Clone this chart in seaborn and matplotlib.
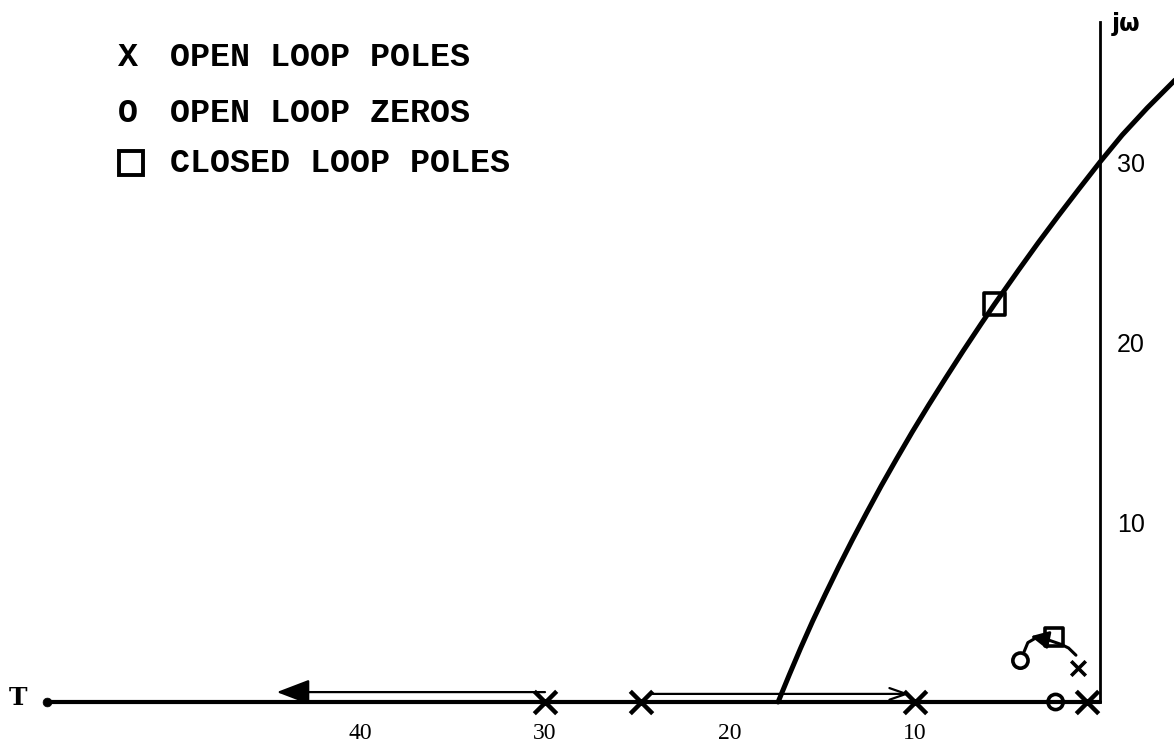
import matplotlib
matplotlib.use("Agg")
import matplotlib.pyplot as plt
import seaborn as sns
import pandas as pd

# ---------------- data ----------------
# main root-locus branch (breakaway on the real axis, up through jw axis)
locus_re = [-17.40, -16.80, -16.18, -15.53, -14.84, -14.13, -13.39, -12.62, -11.83,
            -11.00, -10.15, -9.26, -8.34, -7.40, -6.43, -5.70, -4.40, -3.35, -2.26,
            -1.14, 0.0, 1.20, 2.55, 4.10]
locus_im = [0.0, 1.5, 3.0, 4.5, 6.0, 7.5, 9.0, 10.5, 12.0,
            13.5, 15.0, 16.5, 18.0, 19.5, 21.0, 22.1, 24.0, 25.5, 27.0,
            28.5, 30.0, 31.5, 33.0, 34.6]

# small branch near the origin (pole -> zero)
arc_re = [-1.3, -1.7, -2.1, -2.8, -3.4, -3.9, -4.1]
arc_im = [2.6, 3.0, 3.2, 3.45, 3.6, 3.3, 2.8]

# open loop poles (large on real axis, small off axis)
pole_re = [-30.0, -24.8, -10.0, -0.7]
pole_im = [0.0, 0.0, 0.0, 0.0]
pole_small_re = [-1.2]
pole_small_im = [1.9]

# open loop zeros
zero_re = [-2.4, -4.3]
zero_im = [0.0, 2.3]

# closed loop poles
cl_re = [-5.7, -2.5]
cl_im = [22.1, 3.6]

# real-axis branches drawn as arrows (start, end)
branch_left = (-30.0, -44.5)
branch_mid = (-24.2, -10.3)
real_axis_start = -56.9
jw_axis_top = 37.8

x_tick_vals = [-40, -30, -20, -10]
x_tick_labels = ["40", "30", "20", "10"]
y_tick_vals = [10, 20, 30]
y_tick_labels = ["10", "20", "30"]

legend_labels = ["OPEN LOOP POLES", "OPEN LOOP ZEROS", "CLOSED LOOP POLES"]

# ---------------- figure ----------------
sns.set_theme(style="white")
plt.rcParams["font.family"] = ["DejaVu Sans"]
plt.rcParams["text.color"] = "black"
plt.rcParams["xtick.color"] = "black"
plt.rcParams["ytick.color"] = "black"
plt.rcParams["xtick.labelcolor"] = "black"
plt.rcParams["ytick.labelcolor"] = "black"

W, H = 1174, 746
fig = plt.figure(figsize=(W / 100, H / 100), dpi=100)
ax = fig.add_axes([0, 0, 1, 1])
ax.set_xlim(-1100 / 18.5, 74 / 18.5)
ax.set_ylim(-44 / 18.0, 702 / 18.0)
ax.set_facecolor("white")


def fx(px):
    return px / W


def fy(py):
    return 1 - py / H


# axes as spines through the origin
for s in ["left", "top"]:
    ax.spines[s].set_visible(False)
ax.spines["bottom"].set_position(("data", 0))
ax.spines["bottom"].set_bounds(real_axis_start, 0)
ax.spines["bottom"].set_linewidth(3.0)
ax.spines["bottom"].set_color("black")
ax.spines["bottom"].set_capstyle("round")
ax.spines["right"].set_position(("data", 0))
ax.spines["right"].set_bounds(0, jw_axis_top)
ax.spines["right"].set_linewidth(2.0)
ax.spines["right"].set_color("black")

# left end dot of the real axis
sns.scatterplot(x=[real_axis_start], y=[0], s=40, color="black", edgecolor="black", ax=ax, zorder=4)

# main locus branch
df_loc = pd.DataFrame({"re": locus_re, "im": locus_im})
sns.lineplot(data=df_loc, x="re", y="im", sort=False, color="black", linewidth=3.6,
             estimator=None, ax=ax, clip_on=False)

# small branch near origin
df_arc = pd.DataFrame({"re": arc_re, "im": arc_im})
sns.lineplot(data=df_arc, x="re", y="im", sort=False, color="black", linewidth=2.2,
             estimator=None, ax=ax)
ax.annotate("", xy=(arc_re[4] - 0.35, arc_im[4] + 0.05), xytext=(arc_re[3], arc_im[3]),
            arrowprops=dict(arrowstyle="-|>,head_length=0.9,head_width=0.45",
                            color="black", lw=2, shrinkA=0, shrinkB=0))

# real-axis branches (thin upper lines with arrows)
ax.annotate("", xy=(branch_left[1], 0.55), xytext=(branch_left[0], 0.55),
            arrowprops=dict(arrowstyle="-|>,head_length=1.7,head_width=0.65",
                            color="black", lw=1.6, shrinkA=0, shrinkB=0))
ax.annotate("", xy=(branch_mid[1], 0.45), xytext=(branch_mid[0], 0.45),
            arrowprops=dict(arrowstyle="->,head_length=1.0,head_width=0.35",
                            color="black", lw=1.6, shrinkA=0, shrinkB=0))

# open loop poles
sns.scatterplot(x=pole_re, y=pole_im, marker="x", s=260, color="black", linewidth=3.2,
                ax=ax, zorder=5)
sns.scatterplot(x=pole_small_re, y=pole_small_im, marker="x", s=110, color="black",
                linewidth=2.6, ax=ax, zorder=5)

# open loop zeros
pc = sns.scatterplot(x=zero_re, y=zero_im, marker="o", s=120, color="black",
                     linewidth=2.6, ax=ax, zorder=5).collections[-1]
pc.set_facecolor("none")
pc.set_edgecolor("black")

# closed loop poles
sq = sns.scatterplot(x=cl_re, y=cl_im, marker="s", s=[240, 170], color="black",
                     linewidth=2.6, ax=ax, zorder=5, legend=False).collections[-1]
sq.set_facecolor("none")
sq.set_edgecolor("black")

# ticks (labels only, sitting next to the axes lines)
ax.yaxis.tick_right()
ax.set_xticks(x_tick_vals)
ax.set_xticklabels(x_tick_labels, fontfamily="Liberation Serif", fontsize=17, color="black")
ax.set_yticks(y_tick_vals)
ax.set_yticklabels(y_tick_labels, fontfamily="Liberation Sans", fontsize=18, color="black")
ax.tick_params(axis="x", length=0, pad=15)
ax.tick_params(axis="y", length=0, pad=12)
ax.grid(False)
ax.set_xlabel("")
ax.set_ylabel("")

# axis names
ax.text(fx(1112), fy(24), "j\u03c9", transform=ax.transAxes, ha="left", va="center",
        fontsize=17, fontweight="bold", fontfamily="DejaVu Sans", color="black")
ax.text(fx(18), fy(698), "T", transform=ax.transAxes, ha="center", va="center",
        fontsize=18, fontweight="bold", fontfamily="DejaVu Serif", color="black")

# legend (typewriter style)
mono = "Liberation Mono"
rows_y = [57, 113, 163]
ax.text(fx(128), fy(rows_y[0]), "X", transform=ax.transAxes, ha="center", va="center",
        fontsize=24, fontweight="bold", fontfamily=mono, color="black")
ax.text(fx(128), fy(rows_y[1]), "O", transform=ax.transAxes, ha="center", va="center",
        fontsize=24, fontweight="bold", fontfamily=mono, color="black")
ax.plot([fx(131)], [fy(rows_y[2])], marker="s", ms=17, mfc="none", mec="black", mew=2.8,
        transform=ax.transAxes, clip_on=False, linestyle="none")
for lab, yy in zip(legend_labels, rows_y):
    ax.text(fx(170), fy(yy), lab, transform=ax.transAxes, ha="left", va="center",
            fontsize=24, fontweight="bold", fontfamily=mono, color="black")

if ax.get_legend() is not None:
    ax.get_legend().remove()

fig.savefig("out.png", dpi=100, facecolor="white")
